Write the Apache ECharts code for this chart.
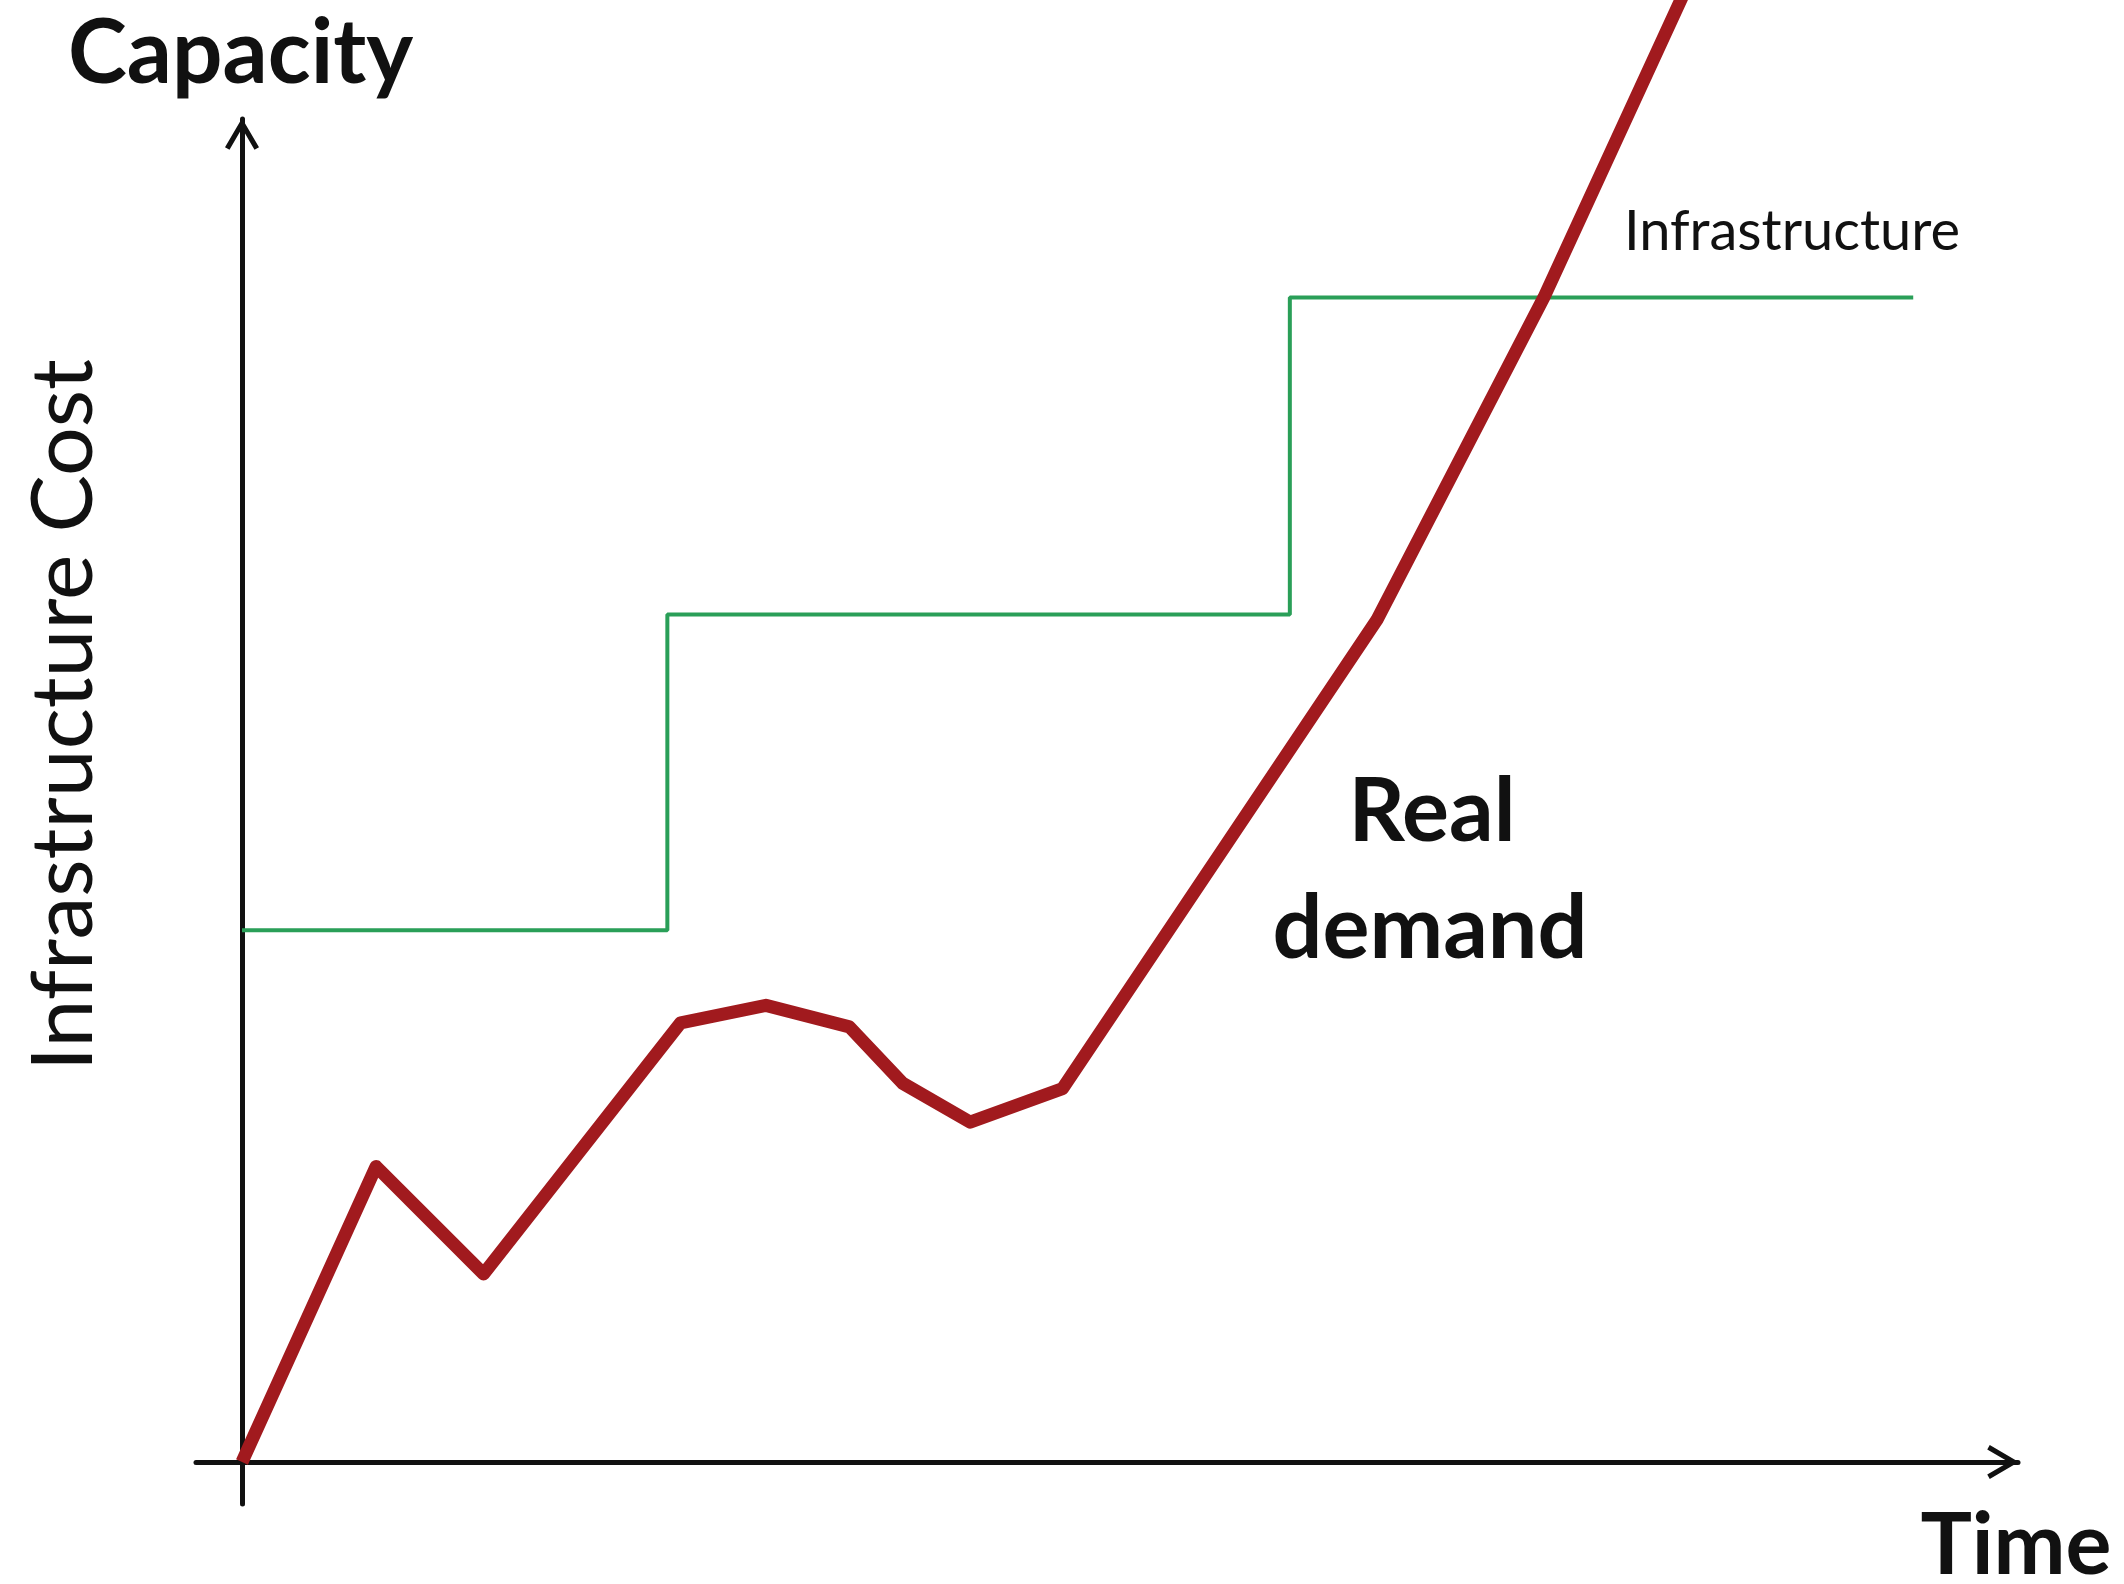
<!DOCTYPE html>
<html>
<head>
    <meta charset="utf-8"/>
    <title>Capacity vs real demand</title>
    <script src="https://cdn.jsdelivr.net/npm/echarts@6/dist/echarts.min.js"></script>
    <style>
        html, body { margin: 0; padding: 0; background: #fff; }
    </style>
</head>
<body>

<div id="main" style="width: 2124px;height:1584px;"></div>

<script>
    // time runs 0..100 along x, capacity 0..100 up y (demand runs off the top)
    var demandTime  = [0, 7.55, 13.6, 24.7, 29.5, 34.2, 37.2, 41.0, 46.2, 63.9, 73.3, 81.2];
    var demandValue = [0, 22.0, 14.0, 32.7, 34.0, 32.4, 28.2, 25.3, 27.8, 62.7, 86.7, 109.4];

    var infraTime  = [0, 23.95, 59.0, 94.1];
    var infraValue = [39.6, 63.1, 86.7, 86.7];

    var xMin = -2.59, xMax = 100;
    var yMin = -3.13, yMax = 100;

    function pairs(xs, ys) {
        var out = [];
        for (var i = 0; i < xs.length; i++) out.push([xs[i], ys[i]]);
        return out;
    }

    // open chevron used as the arrow head of both axes
    var chevron = 'path://M17,0 L34,29 L29.5,31.5 L17,10 L4.5,31.5 L0,29 Z';

    function axisLine() {
        return {
            onZero: true,
            symbol: ['none', chevron],
            symbolSize: [34, 31.5],
            symbolOffset: [0, -15],
            lineStyle: { color: '#111', width: 5 }
        };
    }

    var myChart = echarts.init(document.getElementById('main'));

    var option = {
        backgroundColor: '#fff',
        animation: false,
        grid: { left: 196, right: 106, top: 119, bottom: 80 },
        xAxis: {
            type: 'value', min: xMin, max: xMax,
            axisLine: axisLine(),
            axisTick: { show: false },
            axisLabel: { show: false },
            splitLine: { show: false }
        },
        yAxis: {
            type: 'value', min: yMin, max: yMax,
            axisLine: axisLine(),
            axisTick: { show: false },
            axisLabel: { show: false },
            splitLine: { show: false }
        },
        series: [
            {
                name: 'Infrastructure',
                type: 'line',
                step: 'end',
                data: pairs(infraTime, infraValue),
                showSymbol: false,
                lineStyle: { color: '#2a9f58', width: 4 },
                z: 3
            },
            {
                name: 'Real demand',
                type: 'line',
                data: pairs(demandTime, demandValue),
                showSymbol: false,
                clip: false,
                lineStyle: { color: '#a11a1e', width: 13, join: 'round' },
                z: 4
            }
        ],
        graphic: [
            { type: 'text', x: 68, y: 54,
              style: { text: 'Capacity', font: 'bold 89px Lato', fill: '#111', align: 'left', verticalAlign: 'middle' } },
            { type: 'text', x: 64, y: 715, rotation: Math.PI / 2,
              style: { text: 'Infrastructure Cost', font: '86px Lato', fill: '#111', align: 'center', verticalAlign: 'middle' } },
            { type: 'text', x: 1792, y: 232,
              style: { text: 'Infrastructure', font: '56px Lato', fill: '#111', align: 'center', verticalAlign: 'middle' } },
            { type: 'text', x: 1432, y: 813,
              style: { text: 'Real', font: 'bold 88px Lato', fill: '#111', align: 'center', verticalAlign: 'middle' } },
            { type: 'text', x: 1430, y: 930,
              style: { text: 'demand', font: 'bold 88px Lato', fill: '#111', align: 'center', verticalAlign: 'middle' } },
            { type: 'text', x: 2016, y: 1546,
              style: { text: 'Time', font: 'bold 86px Lato', fill: '#111', align: 'center', verticalAlign: 'middle' } }
        ]
    };

    myChart.setOption(option);
</script>

</body>
</html>
